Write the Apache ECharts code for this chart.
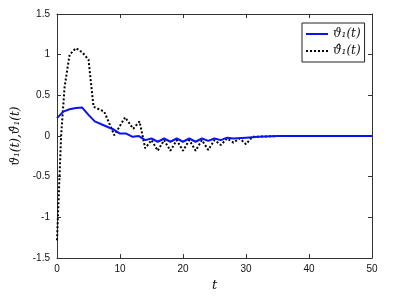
<!DOCTYPE html>
<html>
<head>
<meta charset="utf-8">
<script src="https://cdn.jsdelivr.net/npm/echarts@6/dist/echarts.min.js"></script>
<style>html,body{margin:0;padding:0;background:#fff}#c{width:393px;height:297px}</style>
</head>
<body>
<div id="c"></div>
<script>
// Data
var tTheta = [0, 1, 2, 3, 4, 5, 6, 7.5, 9, 10, 11, 12, 13, 14, 15, 16, 17, 18, 19, 20, 21, 22, 23, 24, 25, 26, 27, 28, 30, 32, 35, 40, 45, 50];
var theta  = [0.22, 0.30, 0.33, 0.345, 0.35, 0.26, 0.18, 0.13, 0.08, 0.03, 0.03, -0.01, 0.0, -0.05, -0.03, -0.07, -0.03, -0.07, -0.03, -0.07, -0.03, -0.07, -0.03, -0.06, -0.03, -0.05, -0.02, -0.03, -0.02, -0.01, 0, 0, 0, 0];
var tHat = [0, 0.65, 1.2, 2.0, 3.0, 4.0, 5.0, 5.8, 7.5, 9.1, 10.8, 12.1, 13.1, 14.0, 15.0, 16.0, 17.0, 18.0, 19.0, 20.0, 21.0, 22.0, 23.0, 24.0, 25.0, 26.0, 27.0, 28.0, 29.0, 30.0, 31.0, 35, 40, 45, 50];
var thetaHat = [-1.28, 0.0, 0.6, 1.0, 1.08, 1.03, 0.94, 0.36, 0.30, 0.01, 0.23, 0.09, 0.18, -0.15, -0.05, -0.18, -0.05, -0.18, -0.05, -0.18, -0.05, -0.18, -0.05, -0.17, -0.05, -0.11, -0.03, -0.08, -0.03, -0.1, -0.01, 0, 0, 0, 0];
var xTicks = {min: 0, max: 50, interval: 10};
var yTicks = {min: -1.5, max: 1.5, interval: 0.5};
var seriesNames = ['ϑ₁(t)', 'ϑ̂₁(t)'];

function pairs(xs, ys) { return xs.map(function (x, i) { return [x, ys[i]]; }); }

function axisCommon() {
  return {
    axisLine: {show: true, onZero: false, lineStyle: {color: '#333', width: 1}},
    axisTick: {show: true, inside: true, length: 4, lineStyle: {color: '#333'}},
    splitLine: {show: false}
  };
}
var labelStyle = {color: '#111', fontSize: 10, fontFamily: 'Liberation Sans, Arial, sans-serif'};

var chart = echarts.init(document.getElementById('c'), null, {renderer: 'canvas'});
chart.setOption({
  animation: false,
  backgroundColor: '#fff',
  grid: {left: 57, right: 21, top: 14, bottom: 36},
  legend: {
    orient: 'vertical', left: 302, top: 23,
    data: seriesNames,
    backgroundColor: '#fff', borderColor: '#222', borderWidth: 1, borderRadius: 0,
    padding: [5, 4, 5, 3], itemGap: 5, itemWidth: 22, itemHeight: 10,
    itemStyle: {opacity: 0},
    textStyle: {fontFamily: 'DejaVu Serif, serif', fontStyle: 'italic', fontSize: 12, color: '#111'}
  },
  xAxis: [
    Object.assign({type: 'value', position: 'bottom', min: xTicks.min, max: xTicks.max, interval: xTicks.interval,
      name: 't', nameLocation: 'middle', nameGap: 17,
      nameTextStyle: {fontFamily: 'DejaVu Serif, serif', fontStyle: 'italic', fontSize: 13, color: '#111'},
      axisLabel: Object.assign({margin: 6}, labelStyle)}, axisCommon()),
    Object.assign({type: 'value', position: 'top', min: xTicks.min, max: xTicks.max, interval: xTicks.interval,
      axisLabel: {show: false}}, axisCommon())
  ],
  yAxis: [
    Object.assign({type: 'value', position: 'left', min: yTicks.min, max: yTicks.max, interval: yTicks.interval,
      name: 'ϑ₁(t),ϑ̂₁(t)', nameLocation: 'middle', nameGap: 31, nameRotate: 90,
      nameTextStyle: {fontFamily: 'DejaVu Serif, serif', fontStyle: 'italic', fontSize: 12, color: '#111'},
      axisLabel: Object.assign({margin: 7}, labelStyle)}, axisCommon()),
    Object.assign({type: 'value', position: 'right', min: yTicks.min, max: yTicks.max, interval: yTicks.interval,
      axisLabel: {show: false}}, axisCommon())
  ],
  series: [
    {name: seriesNames[0], type: 'line', symbol: 'none', data: pairs(tTheta, theta),
      lineStyle: {color: '#0a14f0', width: 2}, itemStyle: {color: '#0a14f0'}, z: 3},
    {name: seriesNames[1], type: 'line', symbol: 'none', data: pairs(tHat, thetaHat),
      lineStyle: {color: '#000', width: 2, type: [2, 2]}, itemStyle: {color: '#000'}, z: 2}
  ]
});
</script>
</body>
</html>
